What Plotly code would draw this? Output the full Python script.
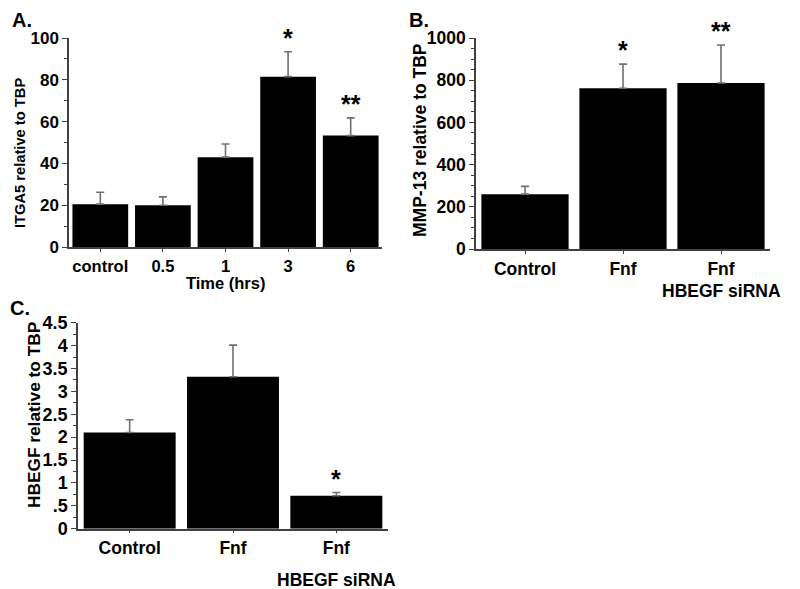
import plotly.graph_objects as go

W, H = 800, 589
OFF = 8  # page body margin offset in the browser

# ---- data ----
a_cats = ["control", "0.5", "1", "3", "6"]
a_vals = [20.5, 20.0, 43.0, 81.5, 53.3]
a_errs = [5.7, 4.0, 6.3, 11.9, 8.5]
a_sig = ["", "", "", "*", "**"]

b_cats = ["Control", "Fnf", "Fnf"]
b_sub = ["", "", "HBEGF siRNA"]
b_vals = [260, 762, 787]
b_errs = [37, 114, 180]
b_sig = ["", "*", "**"]

c_cats = ["Control", "Fnf", "Fnf"]
c_sub = ["", "", "HBEGF siRNA"]
c_vals = [2.10, 3.32, 0.72]
c_errs = [0.28, 0.69, 0.07]
c_sig = ["", "", "*"]
c_ticks = [0, 0.5, 1, 1.5, 2, 2.5, 3, 3.5, 4, 4.5]
c_ticktext = ["0", ".5", "1", "1.5", "2", "2.5", "3", "3.5", "4", "4.5"]

FONT = "Liberation Sans, Arial, sans-serif"
AX = "#404040"
ERR = "#707070"


def px(x):
    return (x - OFF) / W


def py(y):
    return 1 - (y - OFF) / H


fig = go.Figure()


def add_bars(cats, vals, errs, xa, ya):
    fig.add_trace(go.Bar(
        x=list(range(len(cats))), y=vals, xaxis=xa, yaxis=ya,
        marker=dict(color="black", line=dict(width=0)),
        error_y=dict(type="data", symmetric=False, array=errs,
                     arrayminus=[0] * len(errs), color=ERR,
                     thickness=1.6, width=4),
        showlegend=False,
    ))


add_bars(a_cats, a_vals, a_errs, "x", "y")
add_bars(b_cats, b_vals, b_errs, "x2", "y2")
add_bars(c_cats, c_vals, c_errs, "x3", "y3")


def xaxis(domain, anchor, cats, size):
    n = len(cats)
    return dict(domain=domain, anchor=anchor, range=[-0.5, n - 0.5],
                tickmode="array", tickvals=list(range(n)), ticktext=cats,
                showline=True, linecolor=AX, linewidth=1.5,
                ticks="outside", ticklen=3, tickcolor=AX, tickwidth=1,
                tickfont=dict(family=FONT, size=size, color="black", weight="bold"),
                showgrid=False, zeroline=False, fixedrange=True, automargin=False)


def yaxis(domain, anchor, rng, dtick, mdtick, size, **kw):
    d = dict(domain=domain, anchor=anchor, range=rng,
             showline=True, linecolor=AX, linewidth=1.5,
             ticks="outside", ticklen=5, tickcolor=AX, tickwidth=1,
             dtick=dtick, tick0=0,
             minor=dict(dtick=mdtick, tick0=0, ticks="outside", ticklen=3,
                        tickcolor=AX, tickwidth=1, showgrid=False),
             tickfont=dict(family=FONT, size=size, color="black", weight="bold"),
             showgrid=False, zeroline=False, fixedrange=True, automargin=False)
    d.update(kw)
    return d


fig.update_layout(
    width=W, height=H, autosize=False,
    margin=dict(l=0, r=0, t=0, b=0, pad=0, autoexpand=False),
    paper_bgcolor="white", plot_bgcolor="white",
    bargap=0.11,
    xaxis=xaxis([px(69), px(382)], "y", a_cats, 16.5),
    yaxis=yaxis([py(247), py(38)], "x", [0, 100], 20, 10, 17),
    xaxis2=xaxis([px(476), px(770)], "y2", b_cats, 17.5),
    yaxis2=yaxis([py(249), py(38)], "x2", [0, 1000], 200, 50, 17.5),
    xaxis3=xaxis([px(78), px(388)], "y3", c_cats, 17.5),
    yaxis3=yaxis([py(528.7), py(322.7)], "x3", [0, 4.5], 0.5, 0.25, 18,
                 tickmode="array", tickvals=c_ticks, ticktext=c_ticktext),
)

ann = []
# panel letters
for txt, x, y in [("A.", 10, 20), ("B.", 407, 20), ("C.", 8, 308)]:
    ann.append(dict(text=txt, x=px(x), y=py(y), xref="paper", yref="paper",
                    xanchor="left", yanchor="middle", showarrow=False,
                    font=dict(family=FONT, size=20, color="black", weight="bold")))
# y titles
for txt, x, y, s in [("ITGA5 relative to TBP", 20, 153, 14.7),
                     ("MMP-13 relative to TBP", 420, 140, 17.5),
                     ("HBEGF relative to TBP", 34, 415, 17.3)]:
    ann.append(dict(text=txt, x=px(x), y=py(y), xref="paper", yref="paper",
                    xanchor="center", yanchor="middle", showarrow=False, textangle=-90,
                    font=dict(family=FONT, size=s, color="black", weight="bold")))
# x title A
ann.append(dict(text="Time (hrs)", x=px(225), y=py(283), xref="paper", yref="paper",
                xanchor="center", yanchor="middle", showarrow=False,
                font=dict(family=FONT, size=16.5, color="black", weight="bold")))
# sub labels
for subs, xr, y in [(b_sub, "x2", 291), (c_sub, "x3", 580)]:
    for i, s in enumerate(subs):
        if s:
            ann.append(dict(text=s, x=i, y=py(y), xref=xr, yref="paper",
                            xanchor="center", yanchor="middle", showarrow=False,
                            font=dict(family=FONT, size=17.5, color="black", weight="bold")))
# significance
for vals, errs, sig, xr, yr in [(a_vals, a_errs, a_sig, "x", "y"),
                                (b_vals, b_errs, b_sig, "x2", "y2"),
                                (c_vals, c_errs, c_sig, "x3", "y3")]:
    for i, (v, e, s) in enumerate(zip(vals, errs, sig)):
        if s:
            ann.append(dict(text=s, x=i, y=v + e, xref=xr, yref=yr,
                            xanchor="center", yanchor="bottom", showarrow=False,
                            yshift=-2,
                            font=dict(family=FONT, size=25, color="black", weight="bold")))

fig.update_layout(annotations=ann)
fig.write_html("out.html")
